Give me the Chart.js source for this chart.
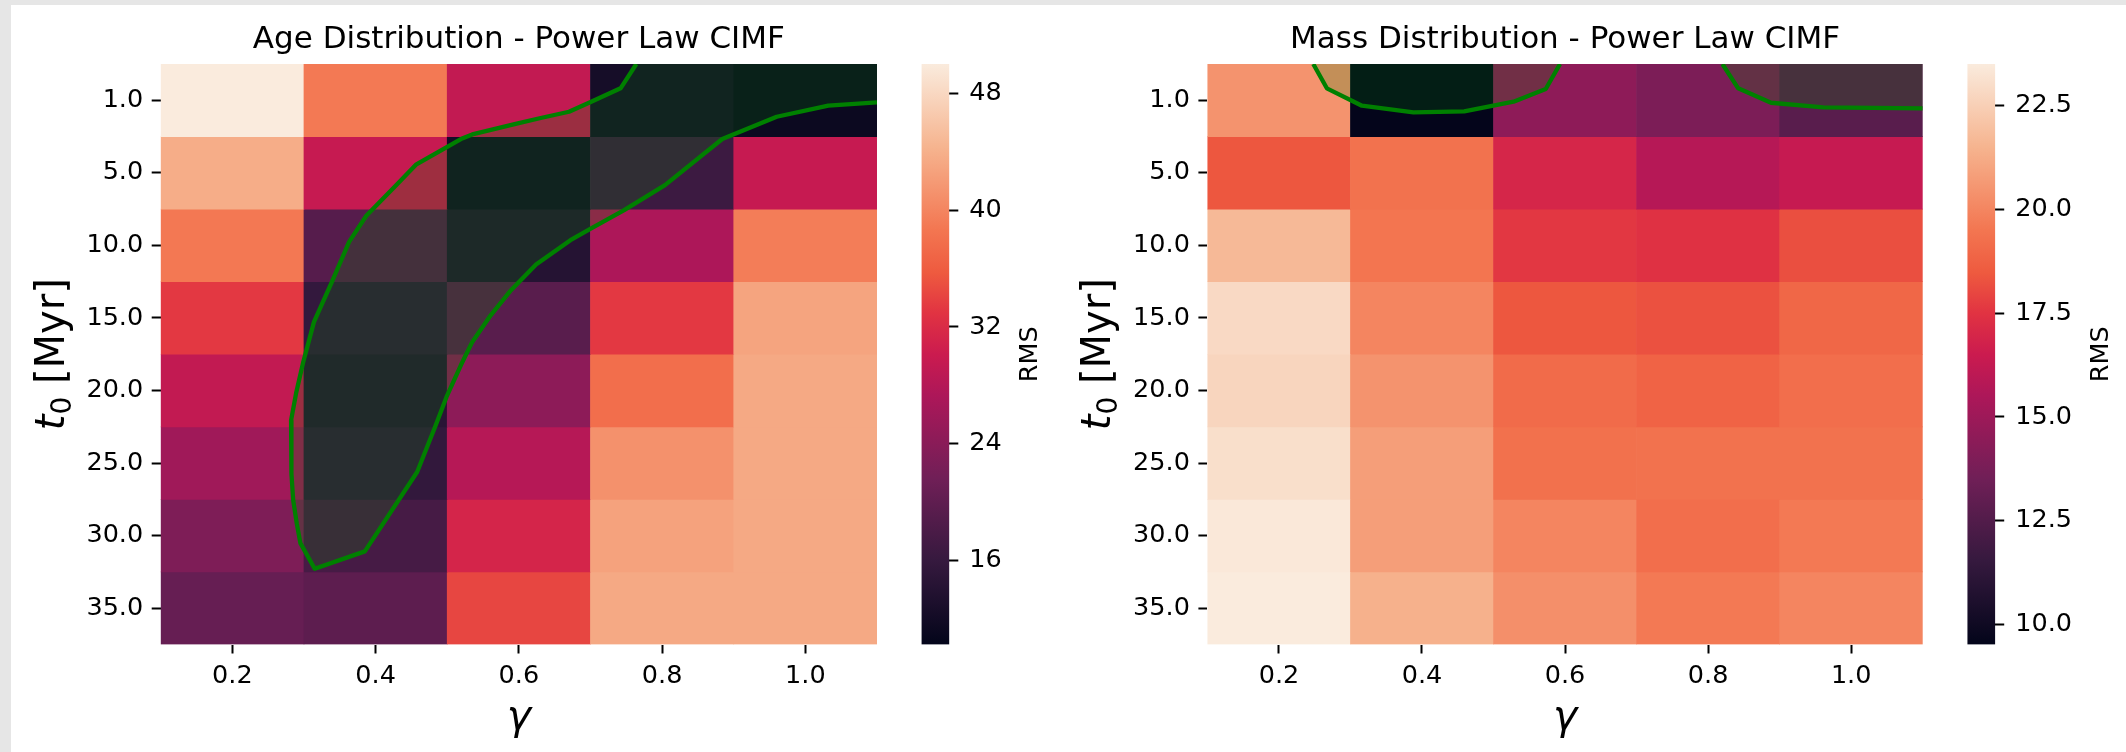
<!DOCTYPE html>
<html lang="en">
<head>
<meta charset="UTF-8">
<title>RMS grids - Power Law CIMF</title>
<script src="https://cdn.jsdelivr.net/npm/chart.js"></script>
<style>
    html, body {
        margin: 0;
        padding: 0;
        width: 2126px;
        height: 752px;
        overflow: hidden;
        background: #e6e6e6;
    }
    .sheet {
        position: absolute;
        left: 11px;
        top: 5px;
        right: 0;
        bottom: 0;
        background: #ffffff;
    }
    canvas {
        position: absolute;
        top: 0;
    }
</style>
</head>
<body>
<div class="sheet"></div>
<canvas id="ageMap" width="900" height="752" style="left:0px"></canvas>
<canvas id="ageBar" width="170" height="752" style="left:900px"></canvas>
<canvas id="massMap" width="875" height="752" style="left:1070px"></canvas>
<canvas id="massBar" width="181" height="752" style="left:1945px"></canvas>
<script>
    const gammaValues = [0.2, 0.4, 0.6, 0.8, 1.0];
    const gammaLabels = ['0.2', '0.4', '0.6', '0.8', '1.0'];
    const t0Labels = ['1.0', '5.0', '10.0', '15.0', '20.0', '25.0', '30.0', '35.0'];

    // RMS, one row per t0 (top to bottom), one column per gamma
    const ageRms = [
        [50.05, 38.9, 29.3, 12.4, 11.2],
        [43.7, 29.7, 12.2, 16.6, 29.7],
        [38.8, 19.1, 14.1, 27.3, 39.3],
        [33.3, 15.7, 19.4, 33.3, 42.9],
        [29.3, 14.5, 24.3, 37.8, 43.3],
        [26.1, 15.6, 28.1, 41.1, 43.3],
        [22.9, 17.5, 31.3, 42.7, 43.3],
        [20.6, 19.8, 34.3, 43.3, 43.3]
    ];
    const massRms = [
        [20.45, 9.55, 14.5, 13.9, 12.75],
        [18.4, 19.35, 16.95, 15.8, 16.35],
        [21.7, 19.45, 17.6, 17.4, 18.2],
        [22.85, 20.0, 18.4, 18.25, 18.95],
        [22.7, 20.45, 19.1, 18.8, 19.2],
        [23.05, 20.8, 19.3, 19.35, 19.35],
        [23.4, 20.8, 20.0, 19.2, 19.6],
        [23.5, 21.4, 20.3, 19.6, 20.0]
    ];

    const ageRange = [10.2, 50.05];
    const massRange = [9.52, 23.5];
    const ageBarTicks = [16, 24, 32, 40, 48];
    const massBarTicks = [10, 12.5, 15, 17.5, 20, 22.5];

    // low-RMS contour: gamma on x, t0 row index on y
    const ageContourGamma = [0.764, 0.742, 0.701, 0.670, 0.632, 0.594, 0.535, 0.519, 0.500, 0.457,
        0.428, 0.387, 0.363, 0.339, 0.314, 0.299, 0.289, 0.282, 0.282, 0.283, 0.285, 0.290, 0.295,
        0.315, 0.385, 0.458, 0.483, 0.499, 0.519, 0.535, 0.559, 0.589, 0.624, 0.672, 0.701, 0.747,
        0.804, 0.884, 0.960, 1.032, 1.1];
    const ageContourRow = [-0.5, -0.165, 0.02, 0.158, 0.241, 0.328, 0.470, 0.534, 0.641, 0.883,
        1.179, 1.592, 1.951, 2.503, 3.054, 3.606, 4.038, 4.410, 4.779, 5.146, 5.514, 5.835, 6.103,
        6.456, 6.217, 5.123, 4.503, 4.089, 3.652, 3.330, 2.986, 2.617, 2.263, 1.928, 1.766, 1.514,
        1.169, 0.534, 0.227, 0.075, 0.028];
    const massContourGammaA = [0.248, 0.267, 0.316, 0.388, 0.459, 0.528, 0.573, 0.593];
    const massContourRowA = [-0.5, -0.165, 0.075, 0.166, 0.152, 0.02, -0.155, -0.5];
    const massContourGammaB = [0.820, 0.842, 0.888, 0.961, 1.1];
    const massContourRowB = [-0.5, -0.165, 0.034, 0.097, 0.111];

    // rocket colormap stops
    const rocketStops = [
        [0.0, '#03051a'], [0.143, '#35193e'], [0.286, '#701f57'], [0.429, '#ad1759'],
        [0.5, '#cb1b4f'], [0.571, '#e13342'], [0.64, '#ee5a3f'], [0.714, '#f37651'],
        [0.857, '#f6b48f'], [1.0, '#faebdd']
    ];

    function hexRgb(h) {
        return [1, 3, 5].map(i => parseInt(h.substr(i, 2), 16));
    }

    function rocket(t) {
        t = Math.min(1, Math.max(0, t));
        for (let i = 1; i < rocketStops.length; i++) {
            const [t1, c1] = rocketStops[i];
            if (t <= t1) {
                const [t0, c0] = rocketStops[i - 1];
                const f = (t - t0) / (t1 - t0);
                const a = hexRgb(c0), b = hexRgb(c1);
                const rgb = a.map((v, k) => Math.round(v + (b[k] - v) * f));
                return 'rgb(' + rgb.join(',') + ')';
            }
        }
        return rocketStops[rocketStops.length - 1][1];
    }

    const FONT = '"DejaVu Sans", sans-serif';
    const tickFont = { family: FONT, size: 25.5 };

    // titles and axis labels that chart.js can't lay out the way we want
    const panelText = {
        id: 'panelText',
        afterDraw(chart, args, opts) {
            const ctx = chart.ctx;
            const a = chart.chartArea;
            const cx = (a.left + a.right) / 2;
            const cy = (a.top + a.bottom) / 2;
            ctx.save();
            ctx.fillStyle = '#000';
            ctx.textBaseline = 'alphabetic';
            if (opts.title) {
                ctx.font = '31px ' + FONT;
                ctx.textAlign = 'center';
                ctx.fillText(opts.title, cx, a.top - 16);
            }
            if (opts.xTitle) {
                ctx.font = 'italic 41px ' + FONT;
                ctx.textAlign = 'center';
                ctx.fillText(opts.xTitle, cx, a.bottom + 84);
            }
            if (opts.yParts) {
                ctx.save();
                ctx.translate(a.left - 97, cy);
                ctx.rotate(-Math.PI / 2);
                ctx.textAlign = 'left';
                let total = 0;
                const widths = opts.yParts.map(p => {
                    ctx.font = p.font;
                    const w = ctx.measureText(p.text).width;
                    total += w;
                    return w;
                });
                let x = -total / 2;
                opts.yParts.forEach((p, i) => {
                    ctx.font = p.font;
                    ctx.fillText(p.text, x, p.dy);
                    x += widths[i];
                });
                ctx.restore();
            }
            if (opts.sideLabel) {
                ctx.save();
                ctx.translate(a.right + opts.sideOffset, cy);
                ctx.rotate(-Math.PI / 2);
                ctx.font = '25.5px ' + FONT;
                ctx.textAlign = 'center';
                ctx.fillText(opts.sideLabel, 0, 0);
                ctx.restore();
            }
            ctx.restore();
        }
    };

    const yTitleParts = [
        { text: 't', font: 'italic 40px ' + FONT, dy: 0 },
        { text: '0', font: '28px ' + FONT, dy: 7 },
        { text: ' [Myr]', font: '40px ' + FONT, dy: 0 }
    ];

    function cellDatasets(values, range) {
        return values.map((row, r) => ({
            type: 'bar',
            data: row.map((v, c) => ({ x: gammaValues[c], y: [r - 0.5, r + 0.5] })),
            backgroundColor: row.map(v => rocket((v - range[0]) / (range[1] - range[0]))),
            borderWidth: 0,
            grouped: false,
            barPercentage: 1,
            categoryPercentage: 1,
            order: 3
        }));
    }

    function contourDatasets(gammas, rows, corners) {
        const pts = gammas.map((g, i) => ({ x: g, y: rows[i] }));
        return [
            {
                type: 'line',
                data: pts.concat(corners),
                fill: 'shape',
                backgroundColor: 'rgba(0,128,0,0.2)',
                borderColor: 'rgba(0,0,0,0)',
                borderWidth: 0,
                pointRadius: 0,
                tension: 0,
                order: 2
            },
            {
                type: 'line',
                data: pts,
                fill: false,
                borderColor: '#008000',
                borderWidth: 4.3,
                borderJoinStyle: 'round',
                pointRadius: 0,
                tension: 0,
                order: 1
            }
        ];
    }

    const tickGrid = {
        drawOnChartArea: false,
        drawTicks: true,
        tickLength: 9,
        tickWidth: 2,
        tickColor: '#000',
        offset: false
    };

    function heatmap(id, title, values, range, contours, yWidth, padRight) {
        return new Chart(document.getElementById(id), {
            type: 'bar',
            data: { datasets: cellDatasets(values, range).concat(contours) },
            plugins: [panelText],
            options: {
                responsive: false,
                animation: false,
                events: [],
                layout: { padding: { top: 64, right: padRight, bottom: 0, left: 0 } },
                plugins: {
                    legend: { display: false },
                    tooltip: { enabled: false },
                    panelText: { title: title, xTitle: 'γ', yParts: yTitleParts }
                },
                scales: {
                    x: {
                        type: 'linear',
                        min: 0.1,
                        max: 1.1,
                        offset: false,
                        afterBuildTicks: s => { s.ticks = gammaValues.map(v => ({ value: v })); },
                        afterFit: s => { s.height = 107.5; },
                        ticks: {
                            callback: (v, i) => gammaLabels[i],
                            font: tickFont,
                            color: '#000',
                            padding: 8,
                            autoSkip: false,
                            maxRotation: 0,
                            minRotation: 0
                        },
                        grid: tickGrid,
                        border: { display: false }
                    },
                    y: {
                        type: 'linear',
                        min: -0.5,
                        max: 7.5,
                        reverse: true,
                        afterBuildTicks: s => { s.ticks = t0Labels.map((_, i) => ({ value: i })); },
                        afterFit: s => { s.width = yWidth; },
                        ticks: {
                            callback: (v, i) => t0Labels[i],
                            font: tickFont,
                            color: '#000',
                            padding: 8.5,
                            autoSkip: false
                        },
                        grid: tickGrid,
                        border: { display: false }
                    }
                }
            }
        });
    }

    function colorbar(id, range, ticks, digits, padLeft, axisWidth, labelOffset) {
        return new Chart(document.getElementById(id), {
            type: 'bar',
            data: {
                labels: [''],
                datasets: [{
                    data: [[range[0], range[1]]],
                    backgroundColor: c => {
                        const y = c.chart.scales.y;
                        if (!y || !c.chart.chartArea) return '#000';
                        const g = c.chart.ctx.createLinearGradient(0, y.getPixelForValue(range[0]), 0, y.getPixelForValue(range[1]));
                        rocketStops.forEach(([t, col]) => g.addColorStop(t, col));
                        return g;
                    },
                    borderWidth: 0,
                    barPercentage: 1,
                    categoryPercentage: 1
                }]
            },
            plugins: [panelText],
            options: {
                responsive: false,
                animation: false,
                events: [],
                layout: { padding: { top: 64, right: 0, bottom: 107.5, left: padLeft } },
                plugins: {
                    legend: { display: false },
                    tooltip: { enabled: false },
                    panelText: { sideLabel: 'RMS', sideOffset: labelOffset }
                },
                scales: {
                    x: { display: false },
                    y: {
                        position: 'right',
                        min: range[0],
                        max: range[1],
                        afterBuildTicks: s => { s.ticks = ticks.map(v => ({ value: v })); },
                        afterFit: s => { s.width = axisWidth; },
                        ticks: {
                            callback: v => v.toFixed(digits),
                            font: tickFont,
                            color: '#000',
                            padding: 11,
                            autoSkip: false
                        },
                        grid: tickGrid,
                        border: { display: false }
                    }
                }
            }
        });
    }

    heatmap('ageMap', 'Age Distribution - Power Law CIMF', ageRms, ageRange,
        contourDatasets(ageContourGamma, ageContourRow, [{ x: 1.1, y: -0.5 }]),
        160.7, 900 - 877);
    colorbar('ageBar', ageRange, ageBarTicks, 0, 21.5, 170 - 49.3, 87.4);

    heatmap('massMap', 'Mass Distribution - Power Law CIMF', massRms, massRange,
        contourDatasets(massContourGammaA, massContourRowA, [])
            .concat(contourDatasets(massContourGammaB, massContourRowB, [{ x: 1.1, y: -0.5 }])),
        1207.4 - 1070, 875 - (1922.7 - 1070));
    colorbar('massBar', massRange, massBarTicks, 1, 22.4, 181 - 50.2, 112.8);
</script>
</body>
</html>
